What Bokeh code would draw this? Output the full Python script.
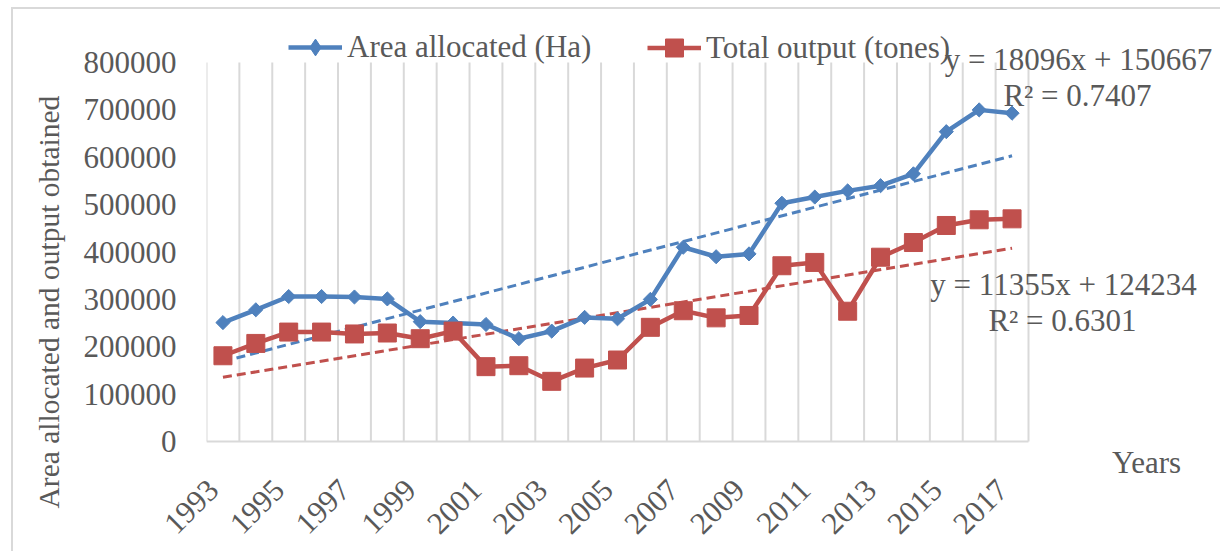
from math import pi
from bokeh.plotting import figure
from bokeh.models import (Range1d, FixedTicker, BasicTickFormatter, Label, Legend,
                          LegendItem, Title)
from bokeh.embed import file_html
from bokeh.resources import INLINE

# ---------------- data ----------------
years = list(range(1993, 2018))
area = [251000, 278000, 306000, 306000, 305000, 301000, 253000, 250000, 247000, 217000,
        233000, 262000, 259000, 300000, 410000, 390000, 396000, 503000, 516000, 529000,
        540000, 565000, 654000, 700000, 693000]
output = [181000, 207000, 231000, 231000, 227000, 229000, 217000, 233000, 158000, 160000,
          127000, 155000, 172000, 241000, 276000, 261000, 266000, 371000, 378000, 275000,
          389000, 420000, 456000, 468000, 470000]
x_tick_years = list(range(1993, 2018, 2))
y_ticks = [0, 100000, 200000, 300000, 400000, 500000, 600000, 700000, 800000]
area_slope, area_intercept, area_r2 = 18096, 150667, "0.7407"
out_slope, out_intercept, out_r2 = 11355, 124234, "0.6301"

series_names = ["Area allocated (Ha)", "Total output (tones)"]
y_title = "Area allocated and output obtained"
x_title = "Years"

# ---------------- style / layout ----------------
BLUE = "#4F81BD"
RED = "#C0504D"
GRID = "#D9D9D9"
TXT = "#595959"
FONT = "Liberation Serif"

W, H = 1209, 544
FL, FB = 193, 79            # frame left / bottom border (px)
FRAME_W = W - FL            # frame reaches right edge
FRAME_H = H - FB            # frame reaches top edge
CAT_PX = 32.88              # px per category
Y_PX = 379 / y_ticks[-1]    # px per unit
BASE_PX = 33                # frame bottom is this far below the value 0

x0 = years[0] - 0.5
x1 = x0 + FRAME_W / CAT_PX
y0 = -BASE_PX / Y_PX
y1 = y0 + FRAME_H / Y_PX

p = figure(width=W, height=H, output_backend="svg", toolbar_location=None,
           x_range=Range1d(x0, x1), y_range=Range1d(y0, y1),
           min_border_left=FL, min_border_right=0, min_border_top=0, min_border_bottom=FB)
p.styles = {"border-left": "2px solid #D9D9D9", "border-top": "2px solid #D9D9D9",
            "margin-left": "11px", "margin-top": "7px"}
p.outline_line_color = None
p.xgrid.grid_line_color = None
p.ygrid.grid_line_color = None

# axes
LABEL_SHIFT = 0.30  # moves the rotated year labels so they end under their category
p.xaxis.ticker = FixedTicker(ticks=[yr - LABEL_SHIFT for yr in x_tick_years])
p.xaxis.major_label_overrides = {yr - LABEL_SHIFT: str(yr) for yr in x_tick_years}
p.xaxis.major_label_orientation = pi / 4
p.xaxis.axis_line_color = None
p.xaxis.major_label_standoff = 10
p.yaxis.ticker = FixedTicker(ticks=y_ticks)
p.yaxis.bounds = (y_ticks[0], y_ticks[-1])
p.yaxis.formatter = BasicTickFormatter(use_scientific=False)
p.yaxis.axis_line_color = None
p.yaxis.major_label_standoff = 30
for ax in (p.xaxis, p.yaxis):
    ax.major_tick_line_color = None
    ax.minor_tick_line_color = None
    ax.major_tick_out = 0
    ax.major_tick_in = 0
    ax.major_label_text_font = FONT
    ax.major_label_text_font_size = "31px"
    ax.major_label_text_color = TXT

# category separators and baseline
edges = [yr - 0.5 for yr in years] + [years[-1] + 0.5]
p.segment(x0=edges, y0=[y_ticks[0]] * len(edges), x1=edges, y1=[y_ticks[-1]] * len(edges),
          line_color=GRID, line_width=2)
p.segment(x0=[edges[0]], y0=[0], x1=[edges[-1]], y1=[0], line_color=GRID, line_width=2)

# trend lines
tx = [years[0], years[-1]]
ix = [1, len(years)]
p.line(tx, [area_slope * i + area_intercept for i in ix], line_color=BLUE, line_width=3,
       line_dash="9 5")
p.line(tx, [out_slope * i + out_intercept for i in ix], line_color=RED, line_width=3,
       line_dash="9 5")

# series
bl = p.line(years, area, line_color=BLUE, line_width=4.5)
p.scatter(years, area, marker="square", angle=pi / 4, size=10, fill_color=BLUE,
          line_color=BLUE)
rl = p.line(years, output, line_color=RED, line_width=4.5)
rm = p.scatter(years, output, marker="square", size=18, fill_color=RED, line_color=RED)
bleg = p.scatter(years, area, marker="diamond", fill_color=BLUE, line_color=BLUE,
                 visible=False)

# legends
def make_legend(name, rends, gh, loc):
    lg = Legend(items=[LegendItem(label=name, renderers=rends)], location=loc,
                orientation="horizontal", glyph_width=54, glyph_height=gh,
                label_standoff=5, padding=0, margin=0, border_line_color=None,
                background_fill_alpha=0, label_text_font=FONT,
                label_text_font_size="31px", label_text_color=TXT)
    p.add_layout(lg, "center")

TOP = BASE_PX + 441  # reference row of the frame bottom, used to place the texts
make_legend(series_names[0], [bl, bleg], 42, (82, TOP - 68))
make_legend(series_names[1], [rl, rm], 45, (441, TOP - 70))

# text labels (screen px from the frame's bottom-left corner)
def lab(text, x, y, size="31px"):
    p.add_layout(Label(x=x, y=y, x_units="screen", y_units="screen", text=text,
                       text_font=FONT, text_font_size=size, text_color=TXT,
                       text_align="center", text_baseline="middle"))

lab(f"y = {area_slope}x + {area_intercept}", 872, TOP - 59)
lab(f"R² = {area_r2}", 871, TOP - 95)
lab(f"y = {out_slope}x + {out_intercept}", 857, TOP - 284)
lab(f"R² = {out_r2}", 856, TOP - 320)
lab(x_title, 940, TOP - 462)

p.add_layout(Title(text=y_title, align="left", offset=-34, standoff=31,
                   text_font=FONT, text_font_size="29.5px", text_color=TXT,
                   text_font_style="normal"), "left")

open("out.html", "w").write(file_html(p, INLINE))
